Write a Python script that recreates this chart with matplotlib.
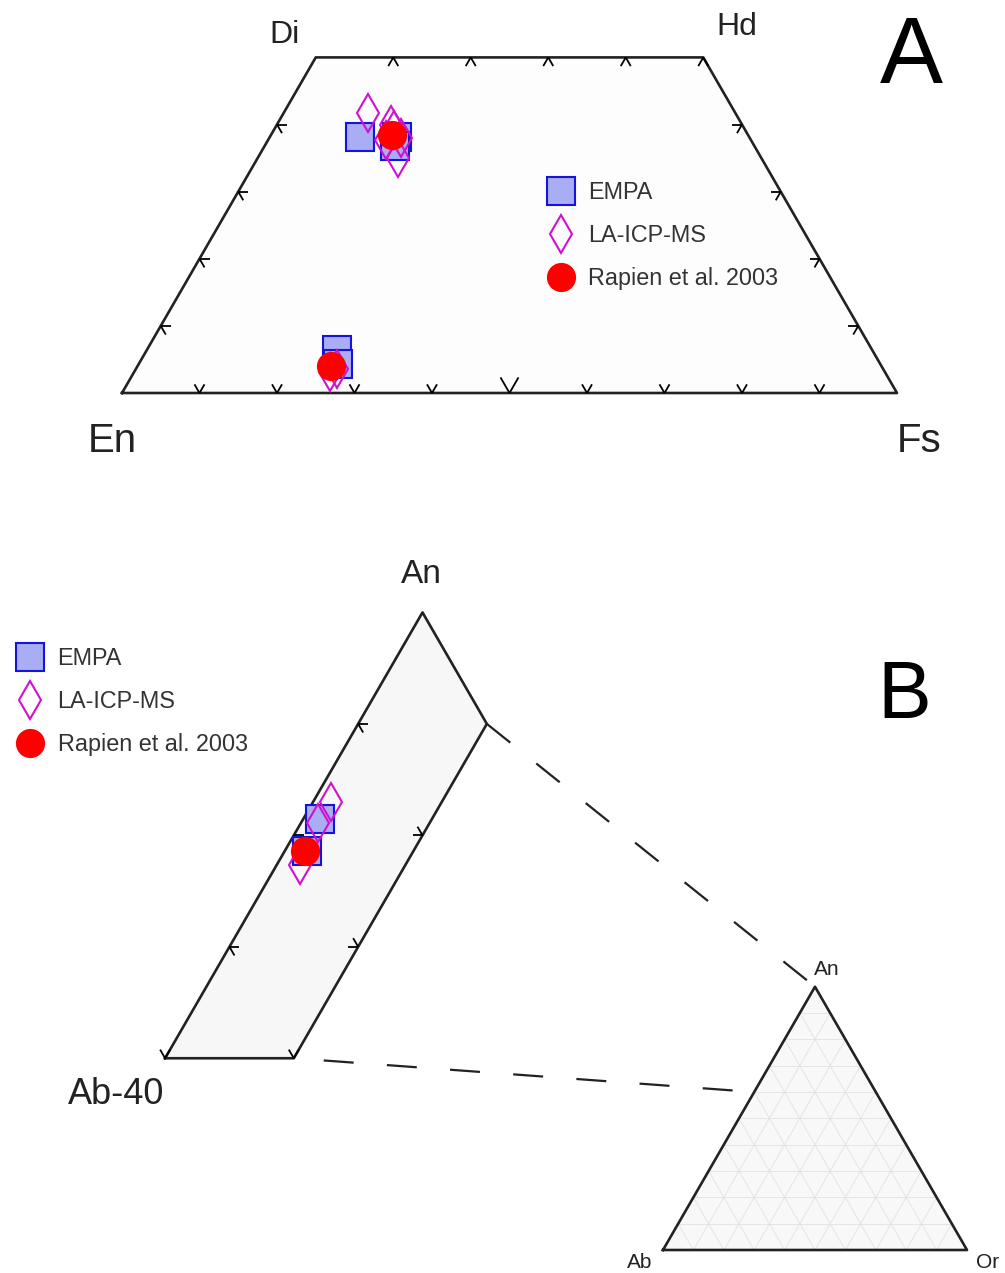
import numpy as np
import matplotlib.pyplot as plt

plt.rcParams['font.family'] = ['Liberation Sans', 'DejaVu Sans']

# pyroxene analyses, mol % (Wo, Fs); En makes up the rest
px_empa_wo = [38.2, 38.2, 36.8, 6.4, 4.3]
px_empa_fs = [11.6, 16.4, 16.8, 24.5, 25.7]
px_la_wo = [41.7, 39.9, 38.0, 37.7, 35.0, 39.2, 3.1, 3.6]
px_la_fs = [10.9, 14.7, 17.0, 15.2, 18.1, 15.5, 25.3, 26.0]
px_lit_wo = [38.5, 4.0]
px_lit_fs = [15.6, 25.0]

# plagioclase analyses, mol % (An, Or); Ab makes up the rest
pl_empa_an = [81.5, 78.6]
pl_empa_or = [1.3, 1.7]
pl_la_an = [83.0, 81.1, 77.3]
pl_la_or = [1.4, 1.3, 1.8]
pl_lit_an = [78.6]
pl_lit_or = [1.6]

legend_labels = ['EMPA', 'LA-ICP-MS', 'Rapien et al. 2003']

S3 = np.sqrt(3) / 2


def pyx(wo, fs):
    # En-Fs-Wo triangle, En at lower left
    wo = np.asarray(wo, float) / 100
    fs = np.asarray(fs, float) / 100
    return 122 + (fs + wo / 2) * 775, 393 - wo * 775 * S3


def plag(an, orr, x0=-221, y0=1727, side=1287):
    # Ab-An-Or triangle, Ab at lower left
    an = np.asarray(an, float) / 100
    orr = np.asarray(orr, float) / 100
    return x0 + (orr + an / 2) * side, y0 - an * side * S3


def plag_small(an, orr):
    return plag(an, orr, x0=663, y0=1250, side=304)


UL = (-0.5, -S3)
UR = (0.5, -S3)
DL = (-0.5, S3)
DR = (0.5, S3)
LEFT = (-1, 0)
RIGHT = (1, 0)


def tick(ax, x, y, dirs, n=10):
    for dx, dy in dirs:
        ax.plot([x, x + dx * n], [y, y + dy * n], color='black', lw=1.3,
                solid_capstyle='butt', zorder=3)


sq = dict(marker='s', ms=20.5, mfc='#a9adf3', mec='#1414dc', mew=1.5, ls='none', zorder=5)
dia = dict(marker='d', ms=19, mfc='none', mec='#d010d0', mew=1.5, ls='none', zorder=6)
dot = dict(marker='o', ms=21, mfc='#ff0000', mec='#ff0000', mew=0, ls='none', zorder=7)

fig = plt.figure(figsize=(10.05, 12.73), dpi=100)
ax = fig.add_axes([0, 0, 1, 1])
ax.set_xlim(0, 1005)
ax.set_ylim(1273, 0)
ax.axis('off')

edge = dict(color='#222222', lw=1.9, zorder=2)

# ---- A: pyroxene quadrilateral ----
qx, qy = pyx([0, 0, 50, 50, 0], [0, 100, 50, 0, 0])
ax.fill(qx, qy, color='#fdfdfd', zorder=1)
ax.plot(qx, qy, **edge)

for f in range(10, 100, 10):
    x, y = pyx(0, f)
    tick(ax, x, y, [UL, UR], 18 if f == 50 else 10)
for f in range(10, 60, 10):
    x, y = pyx(50, f)
    tick(ax, x, y, [DL, DR])
for w in range(10, 50, 10):
    x, y = pyx(w, 0)
    tick(ax, x, y, [RIGHT, DR])
    x, y = pyx(w, 100 - w)
    tick(ax, x, y, [LEFT, DL])

h1, = ax.plot(*pyx(px_empa_wo, px_empa_fs), **sq)
h2, = ax.plot(*pyx(px_la_wo, px_la_fs), **dia)
h3, = ax.plot(*pyx(px_lit_wo, px_lit_fs), **dot)

leg_kw = dict(loc='upper left', bbox_transform=ax.transData, frameon=False,
              fontsize=16.8, handlelength=1.5, handletextpad=0.45,
              labelspacing=0.86, borderpad=0, borderaxespad=0,
              labelcolor='#333333')
leg_a = ax.legend([h1, h2, h3], legend_labels, bbox_to_anchor=(543, 181), **leg_kw)
ax.add_artist(leg_a)

ax.text(285, 43, 'Di', fontsize=23, ha='center', va='baseline', color='#222222')
ax.text(737, 35, 'Hd', fontsize=23, ha='center', va='baseline', color='#222222')
ax.text(112, 452, 'En', fontsize=29, ha='center', va='baseline', color='#222222')
ax.text(919, 452, 'Fs', fontsize=29, ha='center', va='baseline', color='#222222')
ax.text(911, 83, 'A', fontsize=68, ha='center', va='baseline', color='black')

# ---- B: plagioclase band An60-100, Or0-10 ----
bx, by = plag([60, 100, 90, 60, 60], [0, 0, 10, 10, 0])
ax.fill(bx, by, color='#f7f7f7', zorder=1)
ax.plot(bx, by, **edge)

for a in (70, 80, 90):
    x, y = plag(a, 0)
    tick(ax, x, y, [RIGHT, DR])
for a in (70, 80):
    x, y = plag(a, 10)
    tick(ax, x, y, [LEFT, UL])
for o in (0, 10):
    x, y = plag(60, o)
    tick(ax, x, y, [UL, UR])

ax.plot(*plag(pl_empa_an, pl_empa_or), **sq)
ax.plot(*plag(pl_la_an, pl_la_or), **dia)
ax.plot(*plag(pl_lit_an, pl_lit_or), **dot)

ax.legend([h1, h2, h3], legend_labels, bbox_to_anchor=(12, 647), **leg_kw)

# full Ab-An-Or triangle with the band's position
tx, ty = plag_small([0, 100, 0, 0], [0, 0, 100, 0])
ax.fill(tx, ty, color='#f8f8f8', zorder=1)
for k in range(10, 100, 10):
    for a, b in (([k, k], [0, 100 - k]), ([0, 100 - k], [k, k]),
                 ([0, 100 - k], [100 - k, 0])):
        ax.plot(*plag_small(a, b), color='#e2e2e2', lw=0.6, zorder=1)
ax.plot(tx, ty, **edge)

x1, y1 = plag(90, 10)
x2, y2 = plag_small(100, 0)
ax.plot([x1, x2], [y1, y2], color='#222222', lw=1.6, ls=(0, (13.5, 15)), zorder=2)
x1, y1 = plag(60, 10)
x2, y2 = plag_small(60, 0)
ax.plot([x1, x2], [y1, y2], color='#222222', lw=1.6, ls=(15, (13.5, 15)), zorder=2)

ax.text(421, 583, 'An', fontsize=24, ha='center', va='baseline', color='#222222')
ax.text(116, 1104, 'Ab-40', fontsize=26, ha='center', va='baseline', color='#222222')
ax.text(904, 718, 'B', fontsize=58, ha='center', va='baseline', color='black')
ax.text(827, 975, 'An', fontsize=15, ha='center', va='baseline', color='#222222')
ax.text(640, 1268, 'Ab', fontsize=15, ha='center', va='baseline', color='#222222')
ax.text(988, 1268, 'Or', fontsize=15, ha='center', va='baseline', color='#222222')

fig.savefig('out.png', dpi=100, facecolor='white')
